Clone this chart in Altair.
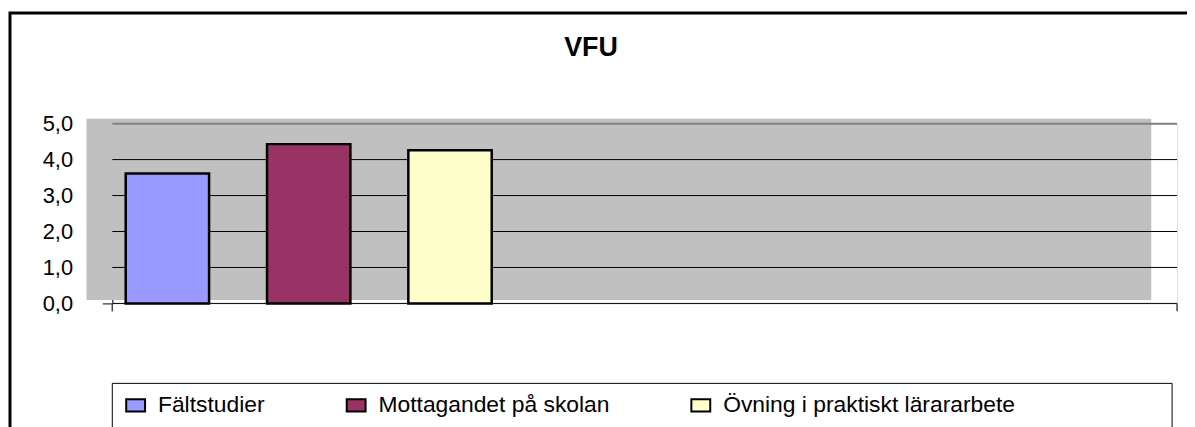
import altair as alt
import pandas as pd

# ---- data ----
categories = ["Fältstudier", "Mottagandet på skolan", "Övning i praktiskt lärararbete"]
values = [3.61, 4.43, 4.26]
colors = ["#9999FF", "#993366", "#FFFFCC"]
y_ticks = [0, 1, 2, 3, 4, 5]
title_text = "VFU"

W, H = 1072, 181
FONT = "Liberation Sans"

bars_df = pd.DataFrame({"cat": categories, "val": values})
grid_df = pd.DataFrame({"val": y_ticks})
one = pd.DataFrame({"k": [0]})
title_df = pd.DataFrame({"t": [title_text]})

x_scale = alt.Scale(domain=categories, paddingInner=0.41, paddingOuter=0,
                    range=[13.5, 382], round=False)
y_scale = alt.Scale(domain=[0, 5], nice=False, zero=True)
color_scale = alt.Scale(domain=categories, range=colors)

y_axis = alt.Axis(values=y_ticks, title="", grid=False,
                  labelExpr="replace(format(datum.value, '.1f'), '.', ',')",
                  labelFont=FONT, labelFontSize=22, labelColor="black",
                  labelPadding=30, tickSize=10, tickColor="black",
                  domainColor="#555555", domainWidth=1.5)

# outer chart frame (decoration)
outer = alt.Chart(one).mark_rect(fillOpacity=0, stroke="black", strokeWidth=3).encode(
    x=alt.value(-103), x2=alt.value(1090), y=alt.value(-111.5), y2=alt.value(320)
)
# legend frame (decoration)
legend_box = alt.Chart(one).mark_rect(fillOpacity=0, stroke="black", strokeWidth=1).encode(
    x=alt.value(0), x2=alt.value(1067), y=alt.value(261.5), y2=alt.value(320)
)
# shifted grey plot background (decoration)
backdrop = alt.Chart(one).mark_rect(fill="#C0C0C0").encode(
    x=alt.value(-26), x2=alt.value(1046), y=alt.value(-5), y2=alt.value(177.5)
)
# category-axis end ticks below the baseline (decoration)
tick_left = alt.Chart(one).mark_rule(color="#444444", strokeWidth=1.5).encode(
    x=alt.value(0), y=alt.value(H), y2=alt.value(H + 8)
)
tick_right = alt.Chart(one).mark_rule(color="#444444", strokeWidth=1.5).encode(
    x=alt.value(W), y=alt.value(H), y2=alt.value(H + 8)
)

title = alt.Chart(title_df).mark_text(
    font=FONT, fontSize=27, fontWeight="bold", color="black",
    align="center", baseline="alphabetic"
).encode(text="t:N", x=alt.value(482), y=alt.value(-68))

rules = alt.Chart(grid_df).mark_rule().encode(
    y=alt.Y("val:Q", scale=y_scale, axis=y_axis),
    color=alt.condition("datum.val == 5", alt.value("#808080"), alt.value("black")),
    size=alt.condition("datum.val == 5", alt.value(2), alt.value(1)),
)

bars = alt.Chart(bars_df).mark_bar(stroke="black", strokeWidth=2.5).encode(
    x=alt.X("cat:N", scale=x_scale, axis=None, sort=categories),
    y=alt.Y("val:Q", scale=y_scale, axis=y_axis),
    color=alt.Color(
        "cat:N", scale=color_scale, sort=categories,
        legend=alt.Legend(
            title=None, orient="none", legendX=12, legendY=272, direction="horizontal",
            columnPadding=78, padding=0,
            symbolType="M-1,-0.65H1V0.65H-1Z", symbolSize=361,
            symbolStrokeColor="black", symbolStrokeWidth=2, symbolOpacity=1,
            labelFont=FONT, labelFontSize=23, labelColor="black", labelOffset=11,
            labelLimit=700,
        ),
    ),
)

chart = alt.layer(outer, legend_box, backdrop, rules, tick_left, tick_right, bars, title).properties(
    width=W, height=H,
    autosize=alt.AutoSizeParams(type="none"),
    padding={"left": 105, "top": 115, "right": 10, "bottom": 123},
).configure_view(stroke="#808080", strokeWidth=2).configure(background="white")

chart.save("out.html", embed_options={"renderer": "svg", "actions": False})
